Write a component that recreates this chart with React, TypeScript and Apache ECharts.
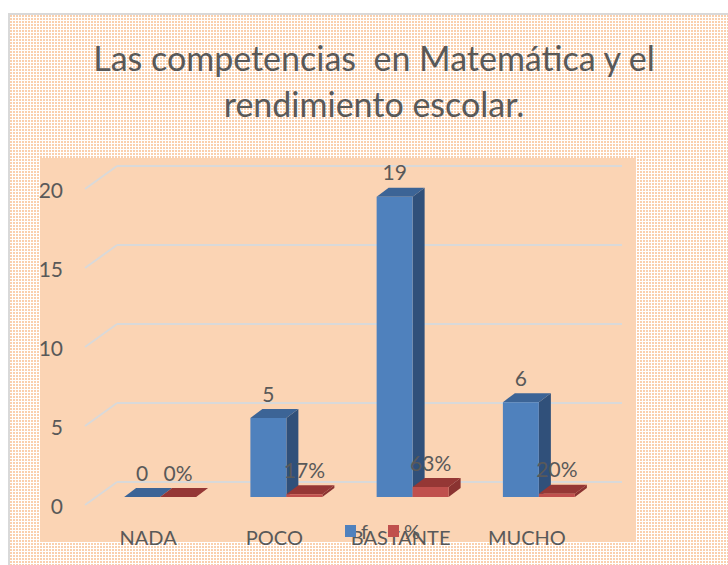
import React, { useEffect, useRef } from "react";
import * as echarts from "echarts";

const categories = ["NADA", "POCO", "BASTANTE", "MUCHO"];
const fValues = [0, 5, 19, 6];
const pctValues = [0, 0.17, 0.63, 0.2];
const yMin = 0;
const yMax = 20;
const yInterval = 5;
const yTicks = [0, 5, 10, 15, 20];
const seriesNames = ["f", "%"];
const titleText = "Las competencias  en Matemática y el\nrendimiento escolar.";

const FONT = "Lato, 'Liberation Sans', sans-serif";
const TEXT = "#595959";

const BLUE = { front: "#4F81BD", top: "#3C6496", side: "#30507A" };
const RED = { front: "#C0504D", top: "#953735", side: "#8A3331" };

function makeRender(colors: any, isSecond: boolean, fmt: (v: number) => string) {
  return (params: any, api: any) => {
    const idx = api.value(0);
    const v = api.value(1);
    const band = api.size([1, 0])[0];
    const w = band * 0.285;
    const base = api.coord([idx, 0]);
    const topPt = api.coord([idx, v]);
    const fx = -20, fy = 15, dx = 12, dy = -9;
    const x0 = base[0] + fx + (isSecond ? 0 : -w);
    const yB = base[1] + fy;
    const yT = topPt[1] + fy;
    const children: any[] = [
      {
        type: "polygon",
        shape: { points: [[x0 + w, yT], [x0 + w + dx, yT + dy], [x0 + w + dx, yB + dy], [x0 + w, yB]] },
        style: { fill: colors.side },
      },
      {
        type: "polygon",
        shape: { points: [[x0, yT], [x0 + w, yT], [x0 + w + dx, yT + dy], [x0 + dx, yT + dy]] },
        style: { fill: colors.top },
      },
      {
        type: "rect",
        shape: { x: x0, y: yT, width: w, height: Math.max(yB - yT, 0) },
        style: { fill: colors.front },
      },
      {
        type: "text",
        x: x0 + w / 2,
        y: yT - 25,
        style: {
          text: fmt(v),
          align: "center",
          verticalAlign: "middle",
          fontSize: 21,
          fontFamily: FONT,
          fill: TEXT,
        },
      },
    ];
    return { type: "group", children };
  };
}

export default function App() {
  const ref = useRef<HTMLDivElement>(null);
  useEffect(() => {
    if (!ref.current) return;
    const chart = echarts.init(ref.current, null, { renderer: "svg" });
    const option: any = {
      animation: false,
      backgroundColor: "transparent",
      graphic: [
        {
          type: "rect",
          z: -10,
          shape: { x: 9, y: 14, width: 740, height: 600 },
          style: { fill: "none", stroke: "#D9D9D9", lineWidth: 2 },
          silent: true,
        },
        {
          type: "rect",
          z: -10,
          shape: { x: 40, y: 158, width: 596, height: 384 },
          style: { fill: "#FBD4B4" },
          silent: true,
        },
        {
          type: "text",
          x: 374,
          y: 34,
          style: {
            text: titleText,
            align: "center",
            fontSize: 34,
            lineHeight: 46,
            fontFamily: FONT,
            fill: TEXT,
          },
        },
      ],
      legend: {
        left: 340,
        top: 516,
        itemWidth: 11,
        itemHeight: 12,
        itemGap: 20,
        icon: "rect",
        textStyle: { fontSize: 20, color: TEXT, fontFamily: FONT },
        data: seriesNames,
      },
      grid: [
        { left: 117, right: 106, top: 166, bottom: 83 },
        { left: 85, right: 138, top: 189, bottom: 60 },
      ],
      xAxis: [
        { type: "category", gridIndex: 0, data: categories, show: false },
        {
          type: "category",
          gridIndex: 1,
          data: categories,
          axisLine: { show: false },
          axisTick: { show: false },
          axisLabel: { fontSize: 20, color: TEXT, fontFamily: FONT, margin: 22, interval: 0 },
        },
      ],
      yAxis: [
        {
          type: "value",
          gridIndex: 0,
          min: yMin,
          max: yMax,
          interval: yInterval,
          axisLabel: { show: false },
          axisLine: { show: false },
          axisTick: { show: false },
          splitLine: { lineStyle: { color: "#D9D9D9", width: 2 } },
        },
        {
          type: "value",
          gridIndex: 1,
          min: yMin,
          max: yMax,
          interval: yInterval,
          axisLabel: { fontSize: 21, color: TEXT, fontFamily: FONT, margin: 22 },
          axisLine: { show: false },
          axisTick: { show: false },
          splitLine: { show: false },
        },
      ],
      series: [
        {
          type: "custom",
          name: "walls",
          xAxisIndex: 0,
          yAxisIndex: 0,
          silent: true,
          z: 1,
          data: yTicks.map((t) => [0, t]),
          renderItem: (params: any, api: any) => {
            const cs = params.coordSys;
            const y = api.coord([0, api.value(1)])[1];
            return {
              type: "line",
              shape: { x1: cs.x, y1: y, x2: cs.x - 32, y2: y + 23 },
              style: { stroke: "#D9D9D9", lineWidth: 2 },
            };
          },
        },
        {
          type: "custom",
          name: seriesNames[0],
          xAxisIndex: 0,
          yAxisIndex: 0,
          z: 3,
          itemStyle: { color: BLUE.front },
          data: fValues.map((v, i) => [i, v]),
          renderItem: makeRender(BLUE, false, (v) => String(v)),
        },
        {
          type: "custom",
          name: seriesNames[1],
          xAxisIndex: 0,
          yAxisIndex: 0,
          z: 3,
          itemStyle: { color: RED.front },
          data: pctValues.map((v, i) => [i, v]),
          renderItem: makeRender(RED, true, (v) => Math.round(v * 100) + "%"),
        },
      ],
    };
    chart.setOption(option);
    return () => chart.dispose();
  }, []);

  return (
    <div style={{ position: "fixed", left: 0, top: 0, width: 728, height: 565, background: "#FFFFFF", overflow: "hidden" }}>
      <div
        style={{
          position: "absolute",
          left: 9,
          top: 14,
          right: 0,
          bottom: 0,
          background:
            "linear-gradient(#FFFFFF 1px, transparent 1px) 0 0 / 3px 3px, linear-gradient(90deg, #FFFFFF 1px, transparent 1px) 0 0 / 3px 3px, #FAD0AE",
        }}
      />
      <div ref={ref} style={{ position: "absolute", left: 0, top: 0, width: 728, height: 565 }} />
    </div>
  );
}
